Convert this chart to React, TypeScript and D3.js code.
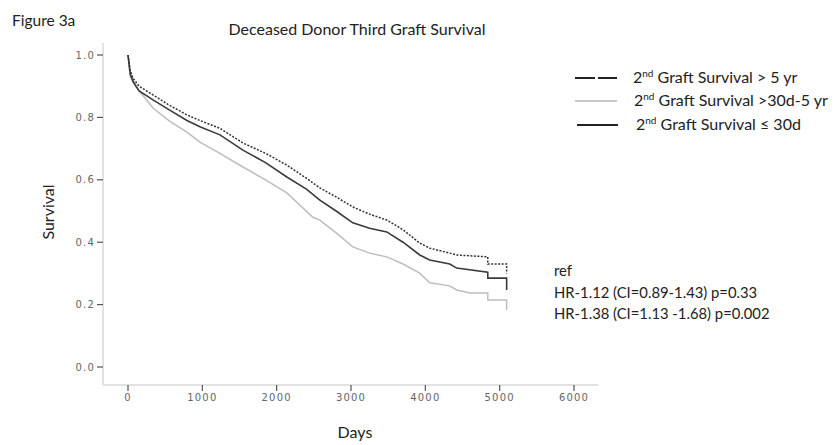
import React, { useEffect, useRef } from "react";
import * as d3 from "d3";

// survival curves: [days, survival]
const over5yr: [number, number][] = [
  [0, 1.0], [30, 0.95], [68, 0.925], [150, 0.9], [336, 0.872], [550, 0.84],
  [793, 0.808], [968, 0.79], [1237, 0.765], [1546, 0.718], [1850, 0.685],
  [2137, 0.647], [2400, 0.605], [2581, 0.574], [2800, 0.545], [3024, 0.513],
  [3250, 0.49], [3481, 0.471], [3700, 0.44], [3925, 0.397], [4059, 0.381],
  [4328, 0.365], [4422, 0.359], [4840, 0.353], [4840, 0.33], [5094, 0.33], [5094, 0.3],
];
const d30to5yr: [number, number][] = [
  [0, 1.0], [30, 0.93], [120, 0.894], [336, 0.83], [550, 0.79], [793, 0.753],
  [968, 0.721], [1237, 0.685], [1546, 0.641], [1850, 0.6], [2137, 0.558],
  [2487, 0.48], [2581, 0.471], [2800, 0.43], [3024, 0.385], [3250, 0.365],
  [3481, 0.353], [3700, 0.33], [3925, 0.301], [4059, 0.27], [4328, 0.26],
  [4422, 0.247], [4600, 0.237], [4840, 0.237], [4840, 0.215], [5094, 0.215], [5094, 0.183],
];
const under30d: [number, number][] = [
  [0, 1.0], [30, 0.94], [68, 0.915], [150, 0.885], [336, 0.856], [550, 0.825],
  [793, 0.79], [968, 0.77], [1237, 0.744], [1546, 0.695], [1850, 0.655],
  [2137, 0.609], [2400, 0.57], [2581, 0.535], [2800, 0.5], [3024, 0.462],
  [3250, 0.445], [3481, 0.433], [3700, 0.4], [3925, 0.359], [4059, 0.343],
  [4328, 0.33], [4422, 0.317], [4840, 0.304], [4840, 0.285], [5094, 0.285], [5094, 0.247],
];

const xTicks = [0, 1000, 2000, 3000, 4000, 5000, 6000];
const yTicks = [0, 0.2, 0.4, 0.6, 0.8, 1.0];
const legendLabels = ["Graft Survival > 5 yr", "Graft Survival >30d-5 yr", "Graft Survival \u2264 30d"];
const stats = ["ref", "HR-1.12 (CI=0.89-1.43) p=0.33", "HR-1.38 (CI=1.13 -1.68) p=0.002"];

const width = 834;
const height = 445;
const textFont = "Lato, 'Open Sans', sans-serif";
const tickFont = "'DejaVu Sans', sans-serif";

const App = () => {
  const gRef = useRef<SVGGElement>(null);

  useEffect(() => {
    const g = d3.select(gRef.current);
    g.selectAll("*").remove();

    const x = d3.scaleLinear().domain([0, 6000]).range([128, 574]);
    const y = d3.scaleLinear().domain([0, 1]).range([367, 55]);

    // axes frame
    g.append("line").attr("x1", 103).attr("x2", 103).attr("y1", 43).attr("y2", 385)
      .attr("stroke", "#d9d9d9").attr("stroke-width", 1.5);
    g.append("line").attr("x1", 103).attr("x2", 598).attr("y1", 385).attr("y2", 385)
      .attr("stroke", "#d9d9d9").attr("stroke-width", 1.5);

    yTicks.forEach(t => {
      g.append("line").attr("x1", 97).attr("x2", 103).attr("y1", y(t)).attr("y2", y(t))
        .attr("stroke", "#555").attr("stroke-width", 1.2);
      g.append("text").attr("x", 95).attr("y", y(t) + 3.5).attr("text-anchor", "end")
        .attr("font-family", tickFont).attr("font-size", 10).attr("letter-spacing", 1.2)
        .attr("fill", "#666").text(d3.format(".1f")(t));
    });

    xTicks.forEach(t => {
      g.append("line").attr("x1", x(t)).attr("x2", x(t)).attr("y1", 385).attr("y2", 391)
        .attr("stroke", "#555").attr("stroke-width", 1.2);
      g.append("text").attr("x", x(t)).attr("y", 401).attr("text-anchor", "middle")
        .attr("font-family", tickFont).attr("font-size", 10).attr("letter-spacing", 1.2)
        .attr("fill", "#666").text(t);
    });

    const line = d3.line<[number, number]>()
      .x(d => x(d[0]))
      .y(d => y(d[1]));

    g.append("path").attr("d", line(d30to5yr)).attr("fill", "none")
      .attr("stroke", "#bdbdbd").attr("stroke-width", 1.5);
    g.append("path").attr("d", line(under30d)).attr("fill", "none")
      .attr("stroke", "#3a3a3a").attr("stroke-width", 1.6);
    g.append("path").attr("d", line(over5yr)).attr("fill", "none")
      .attr("stroke", "#333").attr("stroke-width", 1.5).attr("stroke-dasharray", "2,1.5");
  }, []);

  const legendStyles = [
    { stroke: "#222", dash: "20,3", y: 78, x1: 575, x2: 617, tx: 633 },
    { stroke: "#c8c8c8", dash: "none", y: 101, x1: 575, x2: 617, tx: 634 },
    { stroke: "#222", dash: "none", y: 125, x1: 577, x2: 618, tx: 636 },
  ];

  return (
    <svg width={width} height={height}
      style={{ position: "absolute", left: 0, top: 0, background: "#fff" }}>
      <g ref={gRef} />
      <text x={12} y={26} fontFamily={textFont} fontSize={15.5} fill="#222">Figure 3a</text>
      <text x={357} y={35} textAnchor="middle" fontFamily={textFont} fontSize={16} fill="#222">
        Deceased Donor Third Graft Survival
      </text>
      <text transform="translate(54,212) rotate(-90)" textAnchor="middle" fontFamily={textFont}
        fontSize={16} fill="#222">Survival</text>
      <text x={355} y={438} textAnchor="middle" fontFamily={textFont} fontSize={16} fill="#222">Days</text>
      {legendLabels.map((l, i) => (
        <g key={l}>
          <line x1={legendStyles[i].x1} x2={legendStyles[i].x2} y1={legendStyles[i].y} y2={legendStyles[i].y}
            stroke={legendStyles[i].stroke} strokeWidth={1.8} strokeDasharray={legendStyles[i].dash} />
          <text x={legendStyles[i].tx} y={legendStyles[i].y + 5} fontFamily={textFont} fontSize={16} fill="#222">
            2<tspan fontSize={10} dy={-6}>nd</tspan><tspan dy={6}> {l}</tspan>
          </text>
        </g>
      ))}
      {stats.map((s, i) => (
        <text key={s} x={554} y={276 + i * 21.5} fontFamily={textFont} fontSize={14.8} fill="#222">{s}</text>
      ))}
    </svg>
  );
};

export default App;
